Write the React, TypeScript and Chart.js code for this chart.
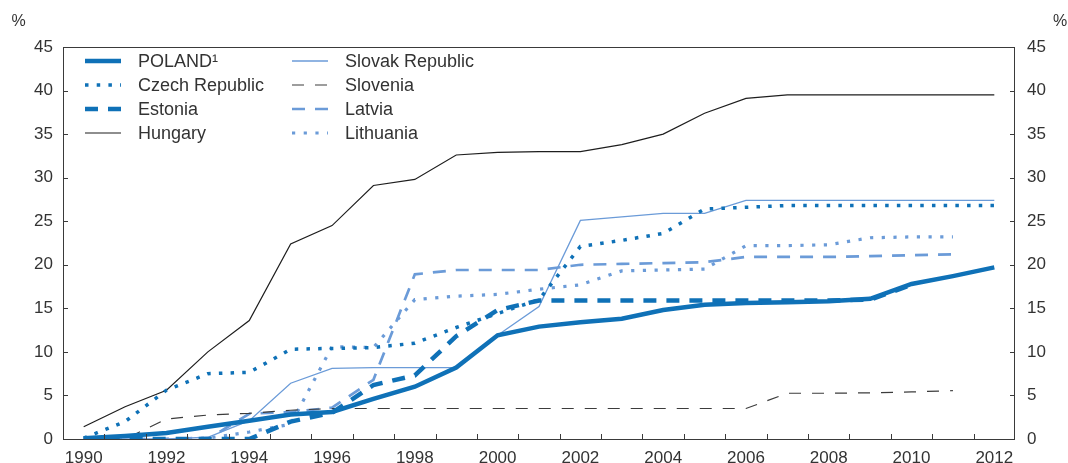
import React, { useEffect, useRef } from 'react';
import { Chart, registerables } from 'chart.js';

Chart.register(...registerables);

const years = ['1990','1991','1992','1993','1994','1995','1996','1997','1998','1999','2000','2001','2002','2003','2004','2005','2006','2007','2008','2009','2010','2011','2012'];
const yTicks = [0, 5, 10, 15, 20, 25, 30, 35, 40, 45];

const poland = [0.1, 0.35, 0.7, 1.4, 2.1, 2.8, 3.1, 4.6, 6.0, 8.2, 11.9, 12.9, 13.4, 13.8, 14.8, 15.4, 15.6, 15.7, 15.8, 16.1, 17.8, 18.7, 19.7];
const czech = [0.1, 2.0, 5.6, 7.5, 7.65, 10.3, 10.4, 10.5, 11.0, 12.8, 14.4, 16.0, 22.1, 22.8, 23.6, 26.4, 26.6, 26.8, 26.8, 26.8, 26.8, 26.8, 26.8];
const estonia = [0, 0, 0, 0, 0, 2.0, 3.0, 6.2, 7.3, 11.8, 14.8, 15.9, 15.9, 15.9, 15.9, 15.9, 15.9, 15.9, 15.9, 16.0, 17.7, null, null];
const hungary = [1.4, 3.7, 5.6, 10.0, 13.6, 22.4, 24.5, 29.1, 29.8, 32.6, 32.9, 33.0, 33.0, 33.8, 35.0, 37.4, 39.1, 39.5, 39.5, 39.5, 39.5, 39.5, 39.5];
const slovak = [0, 0, 0, 0.2, 2.1, 6.4, 8.1, 8.2, 8.2, 8.2, 11.9, 15.2, 25.1, 25.5, 25.9, 25.9, 27.4, 27.4, 27.4, 27.4, 27.4, 27.4, 27.4];
const slovenia = [0, 0, 2.3, 2.75, 2.95, 3.3, 3.5, 3.5, 3.5, 3.5, 3.5, 3.5, 3.5, 3.5, 3.5, 3.5, 3.5, 5.25, 5.25, 5.3, 5.4, 5.55, null];
const latvia = [0, 0, 0, 0, 2.9, 3.1, 3.6, 6.8, 18.9, 19.4, 19.4, 19.4, 20.0, 20.1, 20.2, 20.3, 20.9, 20.9, 20.9, 21.0, 21.1, 21.2, null];
const lithuania = [0, 0, 0, 0.1, 0.8, 1.7, 10.6, 10.5, 16.0, 16.4, 16.6, 17.2, 17.7, 19.3, 19.4, 19.5, 22.2, 22.2, 22.3, 23.1, 23.2, 23.2, null];

const BLUE = '#0f71b7';
const LIGHT = '#6b9bd8';
const BLACK = '#1e1e1e';
const GRAY = '#3c3c3c';
const TEXT = '#333333';
const FONT = '"Liberation Sans", Arial, Helvetica, sans-serif';

export default function App() {
  const ref = useRef<HTMLCanvasElement | null>(null);

  useEffect(() => {
    document.body.style.margin = '0';
    const canvas = ref.current;
    if (!canvas) return;

    const datasets: any[] = [
      { label: 'POLAND\u00b9', data: poland, borderColor: BLUE, borderWidth: 4.5, borderDash: [], col: 0, row: 0 },
      { label: 'Czech Republic', data: czech, borderColor: BLUE, borderWidth: 3.5, borderDash: [3.5, 8.2], col: 0, row: 1 },
      { label: 'Estonia', data: estonia, borderColor: BLUE, borderWidth: 4.5, borderDash: [13, 10], col: 0, row: 2 },
      { label: 'Hungary', data: hungary, borderColor: BLACK, borderWidth: 1.2, borderDash: [], col: 0, row: 3 },
      { label: 'Slovak Republic', data: slovak, borderColor: LIGHT, borderWidth: 1.3, borderDash: [], col: 1, row: 0 },
      { label: 'Slovenia', data: slovenia, borderColor: GRAY, borderWidth: 1.2, borderDash: [12, 11], col: 1, row: 1 },
      { label: 'Latvia', data: latvia, borderColor: LIGHT, borderWidth: 2.7, borderDash: [13, 10], col: 1, row: 2 },
      { label: 'Lithuania', data: lithuania, borderColor: LIGHT, borderWidth: 3.2, borderDash: [3.2, 8.5], col: 1, row: 3 },
    ].map((d) => ({
      ...d,
      fill: false,
      tension: 0,
      pointRadius: 0,
      borderCapStyle: 'butt',
      borderJoinStyle: 'miter',
      spanGaps: false,
      yAxisID: 'y',
    }));

    const framePlugin = {
      id: 'frame',
      afterDraw(chart: any) {
        const { ctx, chartArea } = chart;
        const x = chart.scales.x;
        const y = chart.scales.y;
        ctx.save();
        ctx.strokeStyle = '#3a3a3a';
        ctx.lineWidth = 1;
        ctx.strokeRect(chartArea.left + 0.5, chartArea.top + 0.5, chartArea.right - chartArea.left - 1, chartArea.bottom - chartArea.top);
        ctx.beginPath();
        yTicks.forEach((v) => {
          const py = Math.round(y.getPixelForValue(v)) + 0.5;
          ctx.moveTo(chartArea.left, py);
          ctx.lineTo(chartArea.left + 5, py);
          ctx.moveTo(chartArea.right, py);
          ctx.lineTo(chartArea.right - 5, py);
        });
        const step = x.getPixelForValue(1) - x.getPixelForValue(0);
        for (let i = 1; i < years.length; i++) {
          const px = Math.round(x.getPixelForValue(i) - step / 2) + 0.5;
          ctx.moveTo(px, chartArea.bottom);
          ctx.lineTo(px, chartArea.bottom - 5);
        }
        ctx.stroke();

        ctx.fillStyle = TEXT;
        ctx.font = `16px ${FONT}`;
        ctx.textBaseline = 'middle';
        ctx.textAlign = 'center';
        ctx.fillText('%', 18.5, 22);
        ctx.fillText('%', 1060, 22);

        ctx.font = `18px ${FONT}`;
        ctx.textAlign = 'left';
        const colX = [85, 292];
        const rowY = [61, 85, 109, 133];
        chart.data.datasets.forEach((ds: any) => {
          const lx = colX[ds.col];
          const ly = rowY[ds.row];
          ctx.save();
          ctx.strokeStyle = ds.borderColor;
          ctx.lineWidth = ds.borderWidth;
          ctx.lineCap = 'butt';
          ctx.setLineDash(ds.borderDash);
          ctx.beginPath();
          ctx.moveTo(lx, ly);
          ctx.lineTo(lx + 36, ly);
          ctx.stroke();
          ctx.restore();
          ctx.fillStyle = TEXT;
          ctx.fillText(ds.label, lx + 53, ly + 1);
        });
        ctx.restore();
      },
    };

    const tickFont = { family: FONT, size: 17 };

    const chart = new Chart(canvas, {
      type: 'line',
      data: { labels: years, datasets },
      options: {
        responsive: false,
        animation: false,
        maintainAspectRatio: false,
        layout: { padding: { top: 47, left: 0, right: 0, bottom: 0 } },
        plugins: { legend: { display: false }, tooltip: { enabled: false } },
        scales: {
          x: {
            type: 'category',
            offset: true,
            grid: { display: false, drawTicks: false, offset: true },
            border: { display: false },
            ticks: {
              autoSkip: false,
              maxRotation: 0,
              minRotation: 0,
              padding: 9,
              color: TEXT,
              font: tickFont,
              callback: (_v: any, i: number) => (i % 2 === 0 ? years[i] : ''),
            },
            afterFit: (s: any) => { s.height = 24; },
          },
          y: {
            position: 'left',
            min: 0,
            max: 45,
            grid: { display: false, drawTicks: false },
            border: { display: false },
            ticks: { stepSize: 5, padding: 10, color: TEXT, font: tickFont },
            afterFit: (s: any) => { s.width = 63; },
          },
          y2: {
            position: 'right',
            min: 0,
            max: 45,
            grid: { display: false, drawTicks: false },
            border: { display: false },
            ticks: { stepSize: 5, padding: 12, color: TEXT, font: tickFont },
            afterFit: (s: any) => { s.width = 53; },
          },
        },
      },
      plugins: [framePlugin],
    });

    return () => chart.destroy();
  }, []);

  return (
    <div style={{ width: 1068, height: 463, position: 'relative', background: '#fff' }}>
      <canvas ref={ref} width={1068} height={463} style={{ display: 'block', width: 1068, height: 463 }} />
    </div>
  );
}
